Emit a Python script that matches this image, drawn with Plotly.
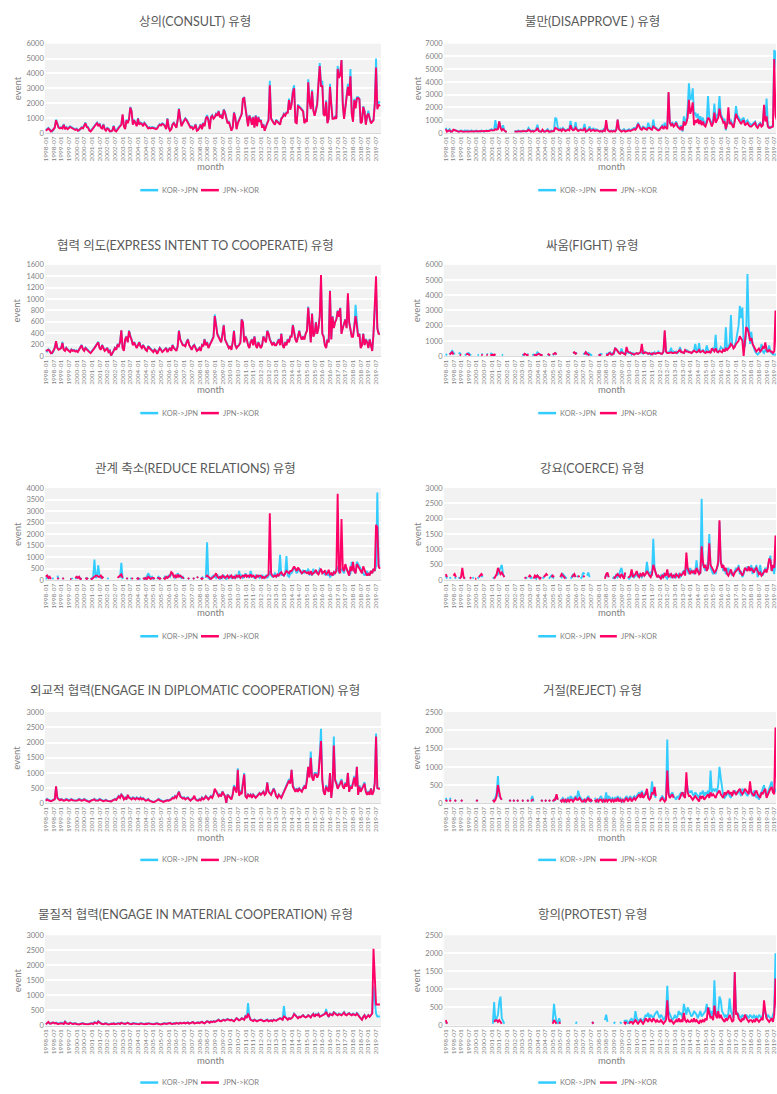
import plotly.graph_objects as go

N = 262
MONTHS = [f"{y}-{m:02d}" for y in range(1998, 2020) for m in range(1, 13)][:N]
TICKS = MONTHS[::6]

# ---------------- data (KOR->JPN = KJ, JPN->KOR = JK), monthly 1998-01 .. 2019-10 ----------------
CONSULT_KJ = [
 200,250,350,250,150,100,200,400,900,600,400,350,
 400,350,600,300,400,300,350,450,400,350,300,250,
 300,200,150,250,400,350,500,700,450,400,200,150,
 250,400,550,600,700,500,650,400,350,600,300,200,
 350,300,150,100,200,500,200,150,300,400,500,600,
 1200,500,300,900,700,1000,1750,1500,600,900,700,500,
 1000,600,700,650,500,700,600,450,350,400,350,400,
 400,350,300,350,500,600,550,650,600,500,300,1000,
 400,200,300,600,700,500,400,900,1650,1000,500,700,
 900,1000,900,700,500,400,450,300,400,600,200,250,
 400,600,300,700,500,1000,1200,900,300,1100,1200,1000,
 1100,1300,1200,1500,1100,1200,1000,1600,1400,1000,700,800,
 500,200,400,1400,1100,300,700,900,1000,1300,2300,2400,
 1700,1200,500,1200,1000,600,1100,400,1200,500,1100,800,
 900,400,600,200,500,700,900,3500,1000,800,700,600,
 900,800,700,600,1000,1100,1300,1200,1400,1400,2300,1600,
 2000,2900,3200,800,700,1900,1800,1700,1600,1500,700,900,
 800,3600,2200,1700,2900,1600,1200,1500,2000,3500,4700,3300,
 3500,1300,1200,2200,700,1000,3300,2000,1000,1000,1100,1000,
 4500,3800,4000,4900,2000,1000,2000,2500,3300,2600,4300,1400,
 800,2300,1700,2400,2400,2300,700,800,1800,1500,600,1200,
 1500,1000,700,800,900,2000,5000,1700,2100,2000]
CONSULT_JK = [
 150,200,300,200,100,150,250,350,850,500,350,300,
 350,300,550,250,350,250,300,400,350,300,250,200,
 250,150,200,300,350,300,450,650,400,350,150,100,
 200,350,500,550,650,450,600,350,300,550,250,150,
 300,250,100,100,150,450,150,100,250,350,450,550,
 1250,450,250,850,650,900,1700,1450,550,850,650,450,
 950,550,650,600,450,650,550,400,300,350,300,350,
 350,300,250,300,450,550,500,600,550,450,250,950,
 350,150,250,550,650,450,350,850,1600,950,450,650,
 850,950,850,650,450,350,400,250,350,550,150,200,
 350,550,250,650,450,950,1100,850,250,1050,1150,950,
 1050,1250,1150,1450,1050,1150,950,1550,1350,950,650,750,
 450,150,350,1350,1050,250,650,850,950,1250,2300,2350,
 1650,1150,450,1150,950,550,1050,350,1150,450,1050,750,
 850,350,550,150,450,650,850,3200,950,750,650,550,
 850,750,650,550,950,1050,1250,1150,1350,1350,2200,1550,
 1900,2700,3000,700,650,1800,1750,1650,1550,1450,650,850,
 750,3400,2100,1600,2800,1500,1150,1450,1900,3300,4500,3100,
 3200,1250,1150,2100,650,950,3100,1900,950,950,1050,950,
 4300,3700,3900,4900,1900,950,1900,2400,3100,2500,3800,1300,
 750,2200,1650,2300,2350,2250,650,750,1750,1450,550,1150,
 1300,900,650,750,850,1900,4400,1600,1900,1800]

DISAPPROVE_KJ = [
 400,150,200,300,100,150,200,250,200,150,100,150,
 200,150,100,200,150,200,100,150,200,150,100,150,
 200,100,150,100,200,150,100,150,200,150,200,250,
 300,200,250,1000,300,400,900,500,300,600,200,100,
 100,None,None,None,None,None,100,150,100,200,150,100,
 150,200,150,100,200,400,250,150,200,150,200,300,
 650,200,150,100,200,150,100,200,300,150,100,200,
 150,200,1200,1100,400,300,350,200,400,300,200,250,
 300,250,950,400,300,350,850,300,200,250,300,250,
 300,700,150,200,300,500,200,300,350,200,300,250,
 200,150,200,100,300,200,800,300,200,150,200,150,
 200,150,300,1050,400,200,150,200,300,150,200,250,
 300,200,250,300,400,350,500,800,600,400,350,500,
 450,400,300,800,500,400,300,1050,500,400,300,250,
 300,500,600,400,800,500,400,3100,900,700,800,600,
 700,900,600,500,400,600,100,1300,800,1000,1900,3900,
 2600,2700,3500,1400,1600,1200,1500,1000,1300,900,1200,800,
 700,1000,2900,1200,900,700,1000,2300,1100,1400,1500,2900,
 1500,1300,1000,1100,200,800,800,900,1000,700,500,1200,
 2100,1400,1200,1000,900,1100,1200,800,900,1000,800,700,
 600,700,800,900,600,500,700,800,600,700,2000,1000,
 2700,600,500,400,500,600,6500,6300,5000,4000]
DISAPPROVE_JK = [
 300,100,150,200,100,100,250,200,150,100,100,100,
 150,100,100,150,100,150,100,100,150,100,100,100,
 150,100,100,100,150,100,100,100,150,100,150,200,
 200,150,200,300,250,300,900,400,200,300,150,100,
 100,None,None,None,None,None,100,100,100,150,100,100,
 100,150,100,100,150,250,200,100,150,100,150,200,
 400,150,100,100,250,100,100,150,200,100,100,150,
 100,150,400,350,300,200,250,150,300,200,150,200,
 250,200,600,300,200,250,400,250,150,200,250,200,
 200,400,100,150,250,300,150,200,250,150,200,200,
 150,100,150,100,200,150,1000,250,150,100,150,100,
 150,100,250,1050,300,150,100,150,200,100,150,200,
 200,150,200,250,300,250,400,700,500,300,250,400,
 350,300,250,400,400,300,250,500,400,300,250,200,
 250,400,500,300,500,400,300,3200,800,600,700,500,
 600,800,500,400,300,500,200,900,600,800,1200,2600,
 1500,1800,2400,600,1000,800,1100,700,1000,600,900,600,
 500,800,1200,1100,700,500,800,1600,800,1000,1200,1900,
 1300,1100,800,900,300,700,2000,700,800,600,400,900,
 1500,1200,1000,800,700,900,1000,600,700,800,600,500,
 500,600,700,800,500,400,600,700,500,600,2200,900,
 1300,500,400,400,450,500,5800,1400,1000,900]

EXPRESS_KJ = [
 100,80,120,100,60,50,80,150,250,150,120,130,
 150,250,120,100,150,120,100,80,120,100,110,90,
 100,80,120,150,200,130,100,150,120,100,80,60,
 100,120,150,180,200,250,150,120,200,150,100,120,
 150,80,100,0,50,100,150,120,200,180,250,450,
 150,100,300,350,250,450,350,300,200,250,200,150,
 200,250,180,150,200,150,120,100,180,150,120,100,
 80,120,100,50,100,150,120,80,100,120,150,80,
 120,150,100,200,150,120,100,180,450,300,250,200,
 200,180,250,300,200,150,120,180,200,150,100,120,
 150,100,200,180,300,200,250,150,200,250,300,350,
 730,500,400,350,300,250,400,550,300,250,200,150,
 180,120,250,450,200,150,180,200,250,650,600,250,
 350,300,200,150,250,300,200,350,200,150,250,200,
 150,200,350,300,250,450,400,300,250,200,250,200,
 200,250,300,200,400,200,150,250,200,300,250,350,
 350,550,400,300,250,350,450,350,300,350,300,400,
 450,870,450,250,750,350,400,600,400,500,700,1300,
 400,350,200,150,300,250,1150,300,700,500,600,650,
 800,700,850,400,500,600,650,500,1050,600,450,350,
 350,500,900,550,350,400,150,200,400,200,300,250,
 150,300,200,100,400,800,1200,500,400,400]
EXPRESS_JK = [
 90,100,110,90,50,60,90,140,260,140,110,120,
 140,230,110,90,140,110,90,70,110,90,100,80,
 90,70,110,140,190,120,90,140,110,90,70,50,
 90,110,140,170,190,240,140,110,190,140,90,110,
 140,70,90,10,40,90,140,110,190,170,240,450,
 140,90,290,340,240,440,340,290,190,240,190,140,
 190,240,170,140,190,140,110,90,170,140,110,90,
 70,110,90,40,90,140,110,70,90,110,140,70,
 110,140,90,190,140,110,90,170,440,290,240,190,
 190,170,240,290,190,140,110,170,190,140,90,110,
 140,90,190,170,290,190,240,140,190,240,290,330,
 700,480,380,330,290,240,380,540,290,240,190,140,
 170,110,240,440,190,140,170,190,240,640,590,240,
 340,290,190,140,240,290,190,340,190,140,240,190,
 140,190,340,290,240,440,390,290,240,190,240,190,
 190,240,290,190,390,190,140,240,190,290,240,340,
 340,540,390,290,240,340,440,340,290,340,290,390,
 440,850,440,240,740,340,390,590,390,490,690,1420,
 390,340,190,140,290,240,1140,290,690,490,590,640,
 790,690,840,390,490,590,640,490,1100,590,440,340,
 340,490,700,540,340,390,140,190,390,190,290,240,
 140,290,190,90,390,900,1400,480,390,380]

FIGHT_KJ = [
 150,50,None,100,200,350,250,100,None,None,150,200,
 100,None,None,50,100,150,200,100,50,None,None,None,
 None,50,100,None,150,100,None,None,150,100,None,200,
 150,100,50,100,None,None,None,None,100,50,None,None,
 None,50,None,None,None,50,None,None,None,None,None,None,
 50,100,50,None,150,100,None,None,50,100,50,100,
 250,150,100,50,100,None,None,None,100,50,100,None,
 50,100,200,150,None,None,None,None,None,None,None,None,
 None,None,None,None,250,200,150,250,None,None,None,None,
 100,150,250,100,200,150,50,100,None,None,None,None,
 50,100,150,100,None,None,200,100,200,250,100,200,
 150,550,400,300,250,200,500,250,200,150,200,300,
 200,250,100,200,150,150,200,150,200,250,200,150,
 300,250,200,150,200,100,200,150,250,150,200,300,
 200,150,150,300,1600,300,200,250,300,550,200,300,
 250,300,200,300,600,300,250,200,300,400,350,300,
 300,200,300,400,800,300,300,850,250,300,400,250,
 300,700,400,300,250,350,500,400,1400,300,250,400,
 600,500,400,300,1900,400,600,800,2700,700,600,700,
 1000,1500,2000,3300,2500,3200,800,600,1500,5400,2000,800,
 1600,800,500,300,200,100,200,300,800,300,200,400,
 300,400,700,300,200,100,100,100,100,100]
FIGHT_JK = [
 50,None,None,100,150,250,100,None,None,None,None,100,
 50,None,None,None,100,150,100,50,None,None,None,None,
 None,None,50,None,100,50,None,None,100,50,None,100,
 50,100,50,150,None,None,None,None,50,None,None,None,
 None,None,None,None,None,None,None,None,None,None,None,None,
 None,50,150,100,50,100,None,None,None,100,50,50,
 100,150,100,50,100,None,None,None,150,100,50,None,
 100,150,200,100,None,None,None,None,None,None,None,None,
 None,None,None,None,200,250,150,200,None,None,None,None,
 None,100,250,150,100,50,None,None,None,None,None,None,
 100,50,100,None,None,None,100,50,150,200,100,100,
 200,500,450,300,200,150,250,200,150,100,600,300,
 250,200,150,100,100,150,200,150,200,250,800,200,
 200,250,200,150,200,150,100,200,150,150,200,200,
 200,150,150,300,1700,300,200,200,250,250,200,200,
 250,200,250,300,400,250,250,200,400,300,300,250,
 250,200,300,350,300,250,300,400,250,300,350,250,
 200,300,250,300,200,500,400,300,500,300,250,350,
 300,250,450,300,500,400,500,600,800,700,500,600,
 800,900,1000,1300,1100,1000,0,1200,1900,1800,1500,1000,
 1200,800,600,500,300,400,500,300,400,600,500,900,
 400,300,400,300,300,200,300,3000,400,300]

REDUCE_KJ = [
 50,100,150,50,None,100,50,None,None,200,50,None,
 None,100,50,None,None,50,None,None,100,50,None,50,
 100,150,100,50,100,None,None,50,100,50,None,100,
 50,150,900,100,200,650,150,100,150,100,None,None,
 100,50,None,None,None,None,None,50,None,None,100,750,
 50,None,None,50,100,None,50,100,None,None,None,50,
 100,50,50,None,50,100,50,150,300,200,100,150,
 50,100,None,50,150,100,50,None,50,150,100,150,
 200,150,300,250,200,100,150,300,200,150,100,150,
 50,None,None,100,50,None,None,100,50,None,150,100,
 None,50,100,150,None,100,1650,100,50,100,150,200,
 150,100,250,100,50,150,100,200,150,50,100,150,
 200,100,150,100,200,150,100,400,150,200,100,150,
 300,200,150,100,400,200,150,100,200,150,200,100,
 150,200,100,150,200,100,200,400,200,150,200,300,
 200,150,300,1100,200,250,200,300,1050,200,150,300,
 300,400,550,450,300,400,500,350,300,450,300,400,
 350,500,250,300,200,500,300,400,350,300,500,450,
 350,300,250,400,200,300,150,200,300,250,350,500,
 600,300,400,500,400,300,600,500,400,200,300,800,
 500,400,300,800,700,600,500,400,300,200,300,400,
 200,300,400,300,500,400,600,3800,650,600]
REDUCE_JK = [
 150,200,100,150,50,None,100,None,None,50,100,None,
 None,50,100,None,None,100,None,50,50,None,None,100,
 150,100,150,50,50,None,None,100,50,100,None,50,
 50,100,150,200,200,150,150,200,100,150,None,None,
 50,None,None,None,None,None,None,None,100,150,200,250,
 100,None,None,100,50,None,None,50,100,None,None,100,
 50,100,None,None,100,50,100,50,150,100,50,100,
 100,50,None,100,100,50,100,None,100,50,150,100,
 150,200,350,300,150,200,100,250,150,200,150,100,
 100,None,None,50,100,None,None,50,100,None,100,150,
 None,100,50,100,None,150,200,150,100,50,100,150,
 200,300,150,100,150,100,200,150,100,150,200,100,
 150,200,100,150,100,200,150,200,100,150,200,150,
 250,150,200,150,250,150,200,150,100,200,150,200,
 200,100,150,100,150,200,250,2900,300,200,150,200,
 150,250,200,300,350,250,200,300,400,350,300,400,
 400,500,600,500,400,550,450,400,300,350,400,350,
 300,350,250,400,250,300,350,450,300,250,400,500,
 300,350,400,250,300,450,250,300,200,350,300,400,
 3750,400,300,2650,500,400,700,500,300,200,600,400,
 800,400,300,700,600,500,400,300,600,400,300,200,
 300,200,400,300,500,400,2400,2300,600,500]

COERCE_KJ = [
 150,50,None,100,50,None,None,100,50,None,50,100,
 None,None,50,100,None,None,50,None,None,100,50,None,
 None,100,50,None,100,150,None,None,None,50,None,None,
 None,50,100,None,150,200,300,400,500,200,100,None,
 50,None,None,None,None,None,None,None,None,None,None,None,
 None,None,None,50,100,None,50,100,50,None,100,50,
 150,100,50,None,50,100,150,None,None,50,100,150,
 100,50,None,None,None,None,150,100,200,150,100,50,
 None,None,50,100,200,100,None,150,100,None,50,100,
 250,200,None,150,250,100,None,None,None,None,None,None,
 None,None,None,None,None,100,150,200,100,None,None,50,
 100,50,200,100,150,300,400,200,100,150,None,100,
 50,100,150,200,100,150,200,100,200,150,100,200,
 150,200,600,300,200,250,150,1350,400,200,150,100,
 100,150,100,200,150,100,50,150,200,100,150,100,
 200,100,150,200,100,150,250,300,200,600,300,200,
 400,250,300,200,300,650,250,300,200,2650,500,400,
 300,400,600,1500,400,300,200,300,200,400,500,1900,
 600,500,300,400,200,300,400,200,300,150,200,300,
 400,300,500,200,300,100,200,400,300,450,400,300,
 500,200,400,300,500,100,300,500,200,150,300,400,
 300,500,600,800,300,400,200,1100,300,200]
COERCE_JK = [
 200,100,None,50,None,None,150,200,100,None,None,50,
 100,400,100,50,None,None,None,50,100,None,None,50,
 50,None,100,150,200,150,None,None,None,100,None,None,
 None,None,50,150,200,400,300,200,250,150,100,None,
 None,None,None,None,None,None,None,None,None,None,None,None,
 None,None,50,100,None,100,150,100,None,50,150,100,
 150,100,50,100,None,100,150,200,150,None,None,100,
 150,100,None,None,None,None,100,200,150,100,50,None,
 None,None,None,100,150,200,100,None,100,150,None,None,
 100,150,None,None,100,None,None,None,None,None,None,None,
 None,None,None,None,None,50,200,250,100,None,None,None,
 50,100,150,200,150,100,200,100,50,250,None,100,
 100,150,350,100,150,200,300,150,100,200,150,250,
 150,200,300,200,150,100,200,500,350,200,100,150,
 100,50,150,100,200,150,350,100,150,200,100,150,
 100,200,150,100,200,150,200,300,150,900,400,300,
 200,300,250,300,200,400,300,200,250,1100,600,400,
 500,300,400,1200,500,400,300,250,300,400,600,1950,
 600,400,500,300,400,200,150,250,350,200,150,250,
 300,350,400,300,200,150,250,400,350,300,450,300,
 400,300,250,350,400,300,200,250,150,200,300,350,
 250,400,700,650,300,500,400,1450,500,300]

DIPLOMATIC_KJ = [
 100,150,120,100,80,100,120,150,550,200,150,120,
 150,130,100,120,150,130,100,120,150,120,100,90,
 100,120,150,130,100,120,150,120,100,80,60,90,
 100,120,150,100,120,100,150,120,100,80,100,120,
 90,80,60,70,100,120,150,130,200,250,200,300,
 250,150,200,150,250,200,180,150,200,180,150,200,
 180,150,200,150,180,130,100,120,150,100,80,60,
 50,60,80,100,150,120,100,80,60,80,100,120,
 100,120,150,200,180,250,200,300,400,250,200,180,
 200,150,180,200,150,100,150,180,200,150,120,100,
 150,120,200,150,180,250,200,150,200,250,200,300,
 450,400,350,250,300,250,400,300,250,0,300,250,
 200,150,300,600,500,400,1150,300,400,350,700,1000,
 250,200,300,250,300,200,300,250,200,250,300,350,
 300,350,400,300,350,700,400,350,300,400,500,400,
 250,200,300,250,200,300,400,500,600,700,800,700,
 1100,600,500,400,500,400,500,450,400,500,600,500,
 800,1200,900,1700,900,800,1000,1000,900,1000,1600,2450,
 800,400,300,600,500,400,1000,200,600,2200,800,700,
 500,600,700,800,600,500,700,600,1000,400,600,500,
 700,900,600,1200,300,600,400,500,600,700,400,300,
 400,300,500,300,400,700,2300,500,500,500]
DIPLOMATIC_JK = [
 80,130,100,90,70,90,100,130,560,180,130,100,
 130,110,90,100,130,110,90,100,130,100,90,80,
 90,100,130,110,90,100,130,100,90,70,50,80,
 90,100,130,90,100,90,130,100,90,70,90,100,
 80,70,50,60,90,100,130,110,180,230,180,280,
 230,130,180,130,280,180,160,130,180,160,130,180,
 160,130,180,130,160,110,90,100,130,90,70,50,
 40,50,70,90,130,100,90,70,50,70,90,100,
 90,100,130,180,160,230,180,280,380,230,180,160,
 180,130,160,180,130,90,130,160,250,130,100,90,
 130,100,180,130,160,230,180,130,180,230,180,280,
 480,380,330,230,280,230,380,280,230,20,280,230,
 180,130,280,550,450,350,1100,250,350,300,650,950,
 230,180,280,230,280,180,280,230,180,230,280,330,
 280,330,380,280,330,680,380,330,280,380,480,380,
 230,180,280,230,180,280,380,480,550,650,750,650,
 1100,550,450,380,480,380,480,430,380,480,550,480,
 750,1200,850,1500,850,750,950,950,850,950,1500,2050,
 750,380,280,550,450,380,1000,180,550,1900,750,650,
 480,550,650,750,550,480,650,550,1000,380,550,480,
 650,850,550,1200,280,550,380,480,550,650,380,280,
 380,280,480,280,380,650,2200,500,480,480]

REJECT_KJ = [
 150,50,None,100,150,None,None,50,100,None,None,None,
 100,50,None,None,None,100,None,None,50,None,None,None,
 100,50,None,None,None,None,100,None,None,100,None,None,
 None,50,100,150,300,750,200,150,100,None,None,None,
 None,None,50,100,None,50,100,None,50,100,None,None,
 50,100,None,None,50,100,None,100,200,50,None,None,
 100,None,None,50,100,None,100,50,None,100,50,None,
 100,50,150,200,100,None,50,100,150,100,50,100,
 150,100,200,150,100,150,200,100,350,200,150,100,
 100,50,100,150,200,100,50,100,None,150,100,50,
 100,150,200,100,50,100,300,100,200,150,100,150,
 100,150,100,200,100,150,100,50,100,150,200,100,
 150,200,100,150,200,150,200,250,300,200,350,200,
 250,300,350,200,150,200,600,300,200,150,None,None,
 100,150,200,150,100,150,1750,300,200,250,300,200,
 150,100,200,150,250,300,200,300,250,650,400,300,
 300,350,250,200,300,250,200,150,300,250,350,200,
 300,250,350,200,900,300,400,350,400,300,500,1000,
 700,400,200,150,200,250,300,200,150,300,250,350,
 300,250,350,300,200,400,350,300,250,200,300,400,
 300,200,350,300,150,200,100,250,300,400,500,300,
 200,300,400,500,600,350,300,400,300,200]
REJECT_JK = [
 100,50,None,50,100,None,None,100,50,None,None,None,
 50,100,None,None,None,50,None,None,100,None,None,None,
 50,100,None,None,None,None,50,None,None,150,None,None,
 None,100,50,100,200,500,300,150,100,None,None,None,
 None,None,100,50,None,100,50,None,100,50,None,None,
 100,50,None,None,100,50,None,50,100,100,None,None,
 50,None,None,100,50,None,50,100,None,50,100,None,
 50,100,100,250,100,None,100,50,100,50,100,50,
 100,50,100,100,50,100,150,100,100,150,100,50,
 50,100,50,100,150,50,100,50,None,100,50,100,
 50,100,100,50,100,50,100,50,100,100,50,100,
 50,100,50,150,50,100,50,100,50,100,150,50,
 100,150,50,100,150,100,150,200,250,150,300,150,
 200,250,400,150,100,150,300,250,450,200,None,None,
 50,100,150,100,50,100,900,250,150,200,250,150,
 None,50,None,100,150,250,300,200,150,850,300,200,
 200,150,100,150,200,150,100,50,200,150,200,100,
 150,200,250,150,300,200,250,200,150,250,300,350,
 250,200,150,300,250,300,350,250,300,200,350,300,
 250,300,350,400,300,250,300,400,350,300,250,600,
 300,250,200,300,350,250,200,150,300,250,350,400,
 150,250,300,400,450,300,250,2080,400,300]

MATERIAL_KJ = [
 50,80,100,60,80,100,90,80,100,70,60,80,
 100,80,60,150,80,70,60,100,80,60,70,80,
 60,50,40,60,70,80,60,50,40,50,60,70,
 80,60,120,100,80,150,100,80,60,50,70,80,
 60,40,50,70,60,80,50,60,70,80,60,100,
 80,70,60,80,100,70,60,50,80,70,60,50,
 60,50,80,70,60,50,70,60,80,70,60,50,
 50,60,70,80,60,50,40,60,70,80,60,70,
 80,90,70,60,80,70,90,80,70,100,80,90,
 100,80,90,110,70,90,100,120,80,90,100,110,
 90,110,130,100,80,120,150,130,100,140,120,150,
 130,150,170,200,160,150,180,200,170,190,220,200,
 180,200,160,150,200,250,220,180,200,250,230,200,
 350,280,750,300,200,180,160,200,180,150,170,190,
 200,180,150,160,170,200,150,170,180,150,200,180,
 170,200,220,250,230,200,650,300,250,200,250,230,
 250,300,400,350,300,250,300,280,320,350,300,280,
 300,350,320,280,350,400,300,380,350,400,300,320,
 350,380,400,550,350,300,400,380,350,450,400,380,
 350,400,380,350,400,450,380,350,400,420,380,350,
 400,380,350,420,380,300,250,200,300,350,250,300,
 350,300,350,400,1300,900,400,300,300,300]
MATERIAL_JK = [
 40,70,120,70,60,90,100,70,80,60,50,70,
 80,70,50,120,70,60,50,90,70,50,60,70,
 50,40,30,50,60,70,50,40,30,40,50,60,
 70,50,100,90,70,130,90,70,50,40,60,70,
 50,30,40,60,50,70,40,50,60,70,50,90,
 70,60,50,70,90,60,50,40,70,60,50,40,
 50,40,70,60,50,40,60,50,70,60,50,40,
 40,50,60,70,50,40,30,50,60,70,50,60,
 70,80,60,50,70,60,80,70,60,90,70,80,
 90,70,80,100,60,80,90,110,70,80,90,100,
 80,100,120,90,70,110,140,120,90,130,110,140,
 120,140,160,190,150,140,170,190,160,180,210,190,
 170,190,150,140,190,240,210,170,190,240,220,190,
 300,250,400,280,190,170,150,190,170,140,160,180,
 190,170,140,150,160,190,140,160,170,140,190,170,
 160,190,210,240,220,190,300,280,240,190,240,220,
 240,290,380,340,290,240,290,270,310,340,290,270,
 290,340,310,270,340,380,290,360,340,380,290,310,
 340,360,380,450,340,290,380,360,340,430,380,360,
 340,380,360,340,380,430,360,340,380,400,360,340,
 380,360,340,400,360,290,240,190,290,340,240,290,
 340,290,340,400,2550,1300,700,700,700,700]

PROTEST_KJ = [
 50,100,None,None,50,None,None,None,None,None,50,None,
 None,None,None,None,None,None,50,None,None,None,None,None,
 None,None,50,None,None,None,None,50,None,None,None,None,
 None,50,650,100,200,300,650,800,200,100,50,None,
 None,None,None,None,None,None,None,None,None,None,50,None,
 None,None,None,None,None,None,None,None,None,50,None,None,
 None,None,None,None,50,None,None,None,None,None,None,None,
 100,600,300,100,50,200,100,None,None,None,None,None,
 None,None,None,None,None,None,50,100,None,None,None,None,
 None,None,None,None,None,None,None,50,100,None,None,None,
 None,None,None,None,None,150,300,100,None,None,None,None,
 50,100,None,None,None,100,50,None,150,100,150,50,
 100,150,200,100,150,400,200,150,100,200,150,100,
 200,300,250,350,200,300,250,200,300,350,400,300,
 200,300,250,150,200,300,1100,400,300,200,150,200,
 300,200,250,400,300,350,200,600,400,300,500,400,
 300,250,300,400,350,300,200,300,400,250,300,350,
 400,600,300,500,250,400,200,1250,400,300,350,800,
 700,400,300,250,300,200,350,750,400,300,200,1450,
 400,350,300,250,200,300,250,200,300,250,200,300,
 250,200,300,200,250,200,300,250,200,300,400,350,
 200,300,250,200,150,300,400,2000,500,400]
PROTEST_JK = [
 150,50,None,None,None,50,None,None,None,None,None,None,
 None,None,None,None,None,None,None,None,50,None,None,None,
 None,None,None,50,None,None,None,None,None,50,None,None,
 None,None,100,150,150,100,150,100,50,None,None,None,
 None,None,None,None,None,None,None,None,None,None,None,None,
 None,None,None,None,None,None,None,None,None,None,None,200,
 None,None,None,None,None,None,None,None,None,None,None,None,
 50,150,100,50,None,100,50,None,None,None,None,None,
 None,None,None,None,None,None,None,None,None,None,None,None,
 None,None,None,None,None,None,None,100,50,None,None,None,
 None,None,None,None,None,None,50,None,None,None,None,None,
 None,50,None,None,None,50,None,None,100,50,100,None,
 50,100,100,50,100,150,100,50,100,150,100,50,
 100,200,150,100,200,150,100,200,150,100,150,100,
 100,150,100,50,100,150,700,200,100,150,100,50,
 100,150,100,200,100,150,100,350,150,100,150,100,
 100,150,100,200,100,150,100,50,150,100,150,100,
 200,150,500,300,200,250,150,550,300,200,400,200,
 300,200,150,100,200,150,200,300,200,100,150,1480,
 300,350,200,150,100,200,150,300,200,150,100,150,
 150,100,150,100,200,150,100,150,200,150,700,400,
 200,150,100,150,200,100,300,1300,500,300]

TITLES = [
    "상의(CONSULT) 유형", "불만(DISAPPROVE ) 유형",
    "협력 의도(EXPRESS INTENT TO COOPERATE) 유형", "싸움(FIGHT) 유형",
    "관계 축소(REDUCE RELATIONS) 유형", "강요(COERCE) 유형",
    "외교적 협력(ENGAGE IN DIPLOMATIC COOPERATION) 유형", "거절(REJECT) 유형",
    "물질적 협력(ENGAGE IN MATERIAL COOPERATION) 유형", "항의(PROTEST) 유형",
]
SERIES_KJ = [CONSULT_KJ, DISAPPROVE_KJ, EXPRESS_KJ, FIGHT_KJ, REDUCE_KJ,
             COERCE_KJ, DIPLOMATIC_KJ, REJECT_KJ, MATERIAL_KJ, PROTEST_KJ]
SERIES_JK = [CONSULT_JK, DISAPPROVE_JK, EXPRESS_JK, FIGHT_JK, REDUCE_JK,
             COERCE_JK, DIPLOMATIC_JK, REJECT_JK, MATERIAL_JK, PROTEST_JK]
Y_MAX = [6000, 7000, 1600, 6000, 4000, 3000, 3000, 2500, 3000, 2500]
Y_STEP = [1000, 1000, 200, 1000, 500, 500, 500, 500, 500, 500]
LEGEND_NAMES = ["KOR->JPN", "JPN->KOR"]

# ---------------- styling / layout ----------------
W, H = 777, 1094
CYAN = "#33CCFF"
RED = "#FF0066"
FONT = "Lato, 'Noto Sans CJK KR', sans-serif"
GRAY_T = "#595959"
GRAY_L = "#7F7F7F"


def fx(p):
    return p / W


def fy(p):
    return 1 - p / H


def fit(a):
    a = list(a)
    return (a + [None] * N)[:N]


ROWS = [(40, 130), (263, 355), (488, 581), (714, 806), (939, 1030)]
TITLE_Y = [18, 243, 468, 692, 918]
MONTH_Y = [164, 389, 614, 840, 1065]
LEG_Y = [187.7, 412.5, 637.5, 863, 1087.5]
COLS = [
    dict(x0=42, x1=380, rng=[-0.8, 261.9], title_x=193, month_x=209, event_x=14,
         leg=(138, 156, 158, 199, 217, 219)),
    dict(x0=443, x1=777, rng=[-1.6, 259.4], title_x=593, month_x=612, event_x=416,
         leg=(538, 556, 558, 600, 617, 619)),
]

fig = go.Figure()
annotations = []
shapes = []
layout = {}

for i in range(10):
    r, c = divmod(i, 2)
    col = COLS[c]
    top, bot = ROWS[r]
    n = "" if i == 0 else str(i + 1)
    xa, ya = "x" + n, "y" + n
    for data, color, name in ((SERIES_KJ[i], CYAN, LEGEND_NAMES[0]),
                              (SERIES_JK[i], RED, LEGEND_NAMES[1])):
        fig.add_trace(go.Scatter(
            x=MONTHS, y=fit(data), mode="lines", name=name,
            line=dict(color=color, width=1.9), connectgaps=False,
            xaxis=xa, yaxis=ya, showlegend=False,
            hovertemplate="%{x}: %{y}<extra>" + name + "</extra>"))
    layout["xaxis" + n] = dict(
        domain=[fx(col["x0"]), fx(col["x1"])], anchor=ya, type="category",
        range=col["rng"], tickmode="array", tickvals=TICKS, ticktext=TICKS,
        tickangle=-90, tickfont=dict(size=6.5, color=GRAY_L, family=FONT),
        showgrid=False, showline=True, linecolor="#D9D9D9", linewidth=1,
        ticks="", zeroline=False)
    layout["yaxis" + n] = dict(
        domain=[fy(bot), fy(top)], anchor=xa, range=[0, Y_MAX[i]],
        tick0=0, dtick=Y_STEP[i], showgrid=True, gridcolor="white", gridwidth=1.6,
        zeroline=False, showline=False, ticks="",
        tickfont=dict(size=7.5, color=GRAY_L, family=FONT))
    annotations.append(dict(text=TITLES[i], x=fx(col["title_x"]), y=fy(TITLE_Y[r]),
                            xref="paper", yref="paper", xanchor="center", yanchor="middle",
                            showarrow=False, font=dict(size=12.5, color=GRAY_T, family=FONT)))
    annotations.append(dict(text="month", x=fx(col["month_x"]), y=fy(MONTH_Y[r]),
                            xref="paper", yref="paper", xanchor="center", yanchor="middle",
                            showarrow=False, font=dict(size=9.5, color=GRAY_L, family=FONT)))
    annotations.append(dict(text="event", x=fx(col["event_x"]), y=fy((top + bot) / 2),
                            xref="paper", yref="paper", xanchor="center", yanchor="middle",
                            textangle=-90, showarrow=False,
                            font=dict(size=9.5, color=GRAY_L, family=FONT)))
    l = col["leg"]
    ly = fy(LEG_Y[r])
    shapes.append(dict(type="line", xref="paper", yref="paper", x0=fx(l[0]), x1=fx(l[1]),
                       y0=ly, y1=ly, line=dict(color=CYAN, width=2.5)))
    shapes.append(dict(type="line", xref="paper", yref="paper", x0=fx(l[3]), x1=fx(l[4]),
                       y0=ly, y1=ly, line=dict(color=RED, width=2.5)))
    annotations.append(dict(text=LEGEND_NAMES[0], x=fx(l[2]), y=ly, xref="paper", yref="paper",
                            xanchor="left", yanchor="middle", showarrow=False,
                            font=dict(size=7.5, color=GRAY_L, family=FONT)))
    annotations.append(dict(text=LEGEND_NAMES[1], x=fx(l[5]), y=ly, xref="paper", yref="paper",
                            xanchor="left", yanchor="middle", showarrow=False,
                            font=dict(size=7.5, color=GRAY_L, family=FONT)))

fig.update_layout(
    width=W, height=H, margin=dict(l=0, r=0, t=0, b=0),
    paper_bgcolor="white", plot_bgcolor="#F2F2F2",
    font=dict(family=FONT, color=GRAY_L),
    showlegend=False, annotations=annotations, shapes=shapes,
    **layout)

fig.write_html("out.html",
               config={"displayModeBar": False},
               post_script="document.body.style.margin='0px';"
                           "document.body.style.overflow='hidden';"
                           "document.documentElement.style.overflow='hidden';")
